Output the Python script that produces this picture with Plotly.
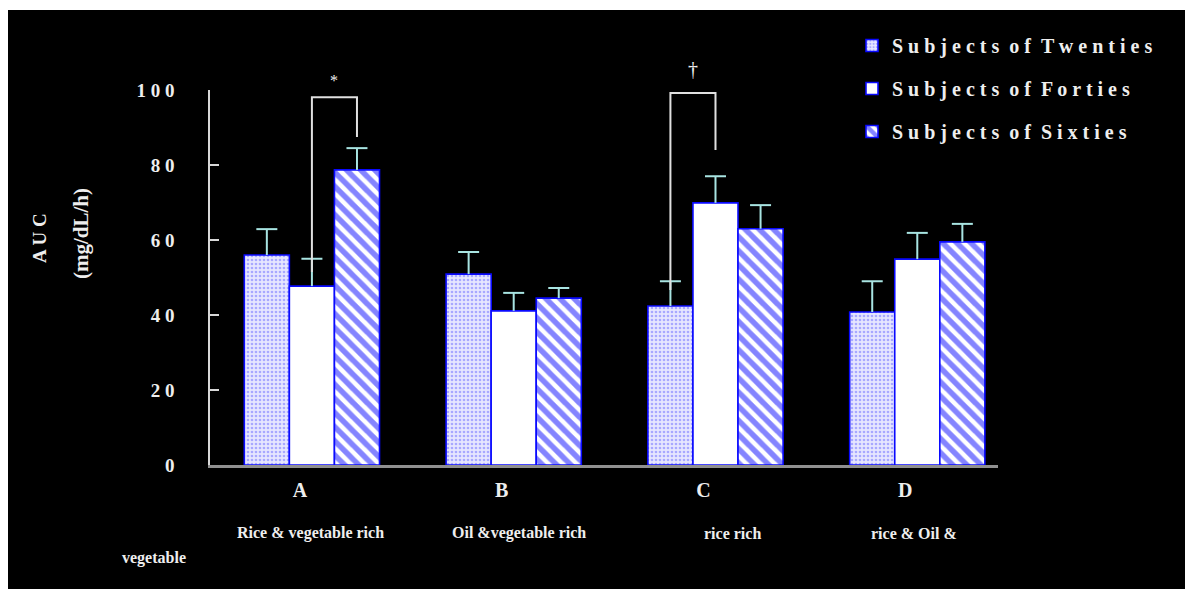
import plotly.graph_objects as go

# ---- data ----
categories = ["A", "B", "C", "D"]
category_desc = ["Rice & vegetable rich", "Oil &vegetable rich", "rice rich", "rice & Oil &"]
series_names = ["Subjects of Twenties", "Subjects of Forties", "Subjects of Sixties"]
twenties = [56.0, 50.9, 42.4, 40.8]
forties = [47.7, 41.1, 69.9, 54.9]
sixties = [78.7, 44.5, 63.0, 59.5]
twenties_err = [6.9, 5.9, 6.6, 8.2]
forties_err = [7.3, 4.8, 7.1, 7.0]
sixties_err = [5.8, 2.7, 6.3, 4.8]
y_ticks = [0, 20, 40, 60, 80, 100]
# significance brackets: (category index, left series, right series, left bottom, right bottom, top, symbol)
brackets = [(0, 1, 2, 51.5, 87.5, 98.1, "*"), (2, 0, 1, 46.7, 84.0, 99.2, "\u2020")]

FONT = "Liberation Serif"
TXT = "#eeeeee"
BLUE = "#0a0aff"
ERR = "#a8e4e2"
BARGAP = 0.33


def spaced(s):
    return " ".join(s).replace("   ", "\u00a0\u00a0")


values = [twenties, forties, sixties]
errors = [twenties_err, forties_err, sixties_err]
patterns = [
    dict(shape=".", fgcolor="#6a6aff", bgcolor="#e6e6ff", size=4, solidity=0.35),
    None,
    dict(shape="\\", fgcolor=BLUE, bgcolor="#ffffff", size=10, solidity=0.55),
]

fig = go.Figure()
w = (1 - BARGAP) / 3
for i in range(3):
    marker = dict(color="#ffffff", line=dict(color=BLUE, width=1.6))
    if patterns[i] is not None:
        marker["pattern"] = patterns[i]
    fig.add_trace(go.Bar(
        x=list(range(len(categories))), y=values[i], name=spaced(series_names[i]),
        legendgroup="g" + str(i), marker=marker,
        error_y=dict(type="data", array=errors[i], arrayminus=[0] * len(categories),
                     symmetric=False, color=ERR, thickness=2, width=0),
    ))
# error-bar caps (top only)
for i in range(3):
    fig.add_trace(go.Scatter(
        x=[c + (i - 1) * w for c in range(len(categories))],
        y=[v + e for v, e in zip(values[i], errors[i])],
        mode="markers", showlegend=False, hoverinfo="skip", legendgroup="g" + str(i),
        marker=dict(symbol="line-ew", size=15, line=dict(color=ERR, width=2)),
    ))

# brackets computed from bar positions
for ci, s1, s2, yb1, yb2, yt, sym in brackets:
    x1 = ci + (s1 - 1) * w
    x2 = ci + (s2 - 1) * w
    fig.add_shape(type="path", xref="x", yref="y",
                  path=f"M {x1} {yb1} L {x1} {yt} L {x2} {yt} L {x2} {yb2}",
                  line=dict(color="#e0e0e0", width=2))
    fig.add_annotation(x=(x1 + x2) / 2, y=yt, xref="x", yref="y", text=sym, showarrow=False,
                       yanchor="bottom", yshift=6 if sym == "*" else 11,
                       font=dict(family=FONT, size=16 if sym == "*" else 20, color=TXT))

# category descriptions
shifts = [-1, 5, 17, -3]
for i, d in enumerate(category_desc):
    fig.add_annotation(x=i, y=0, xref="x", yref="paper", text=d, showarrow=False,
                       xanchor="center", yanchor="middle", yshift=-68, xshift=shifts[i],
                       font=dict(family=FONT, size=16, color=TXT, weight="bold"))
fig.add_annotation(x=(154 - 210) / 788, y=0, xref="paper", yref="paper", text="vegetable",
                   showarrow=False, xanchor="center", yanchor="middle", yshift=-93,
                   font=dict(family=FONT, size=16, color=TXT, weight="bold"))

# y-axis title (two parts)
fig.add_annotation(x=(39 - 210) / 788, y=(465 - 238) / 375, xref="paper", yref="paper",
                   text=spaced("AUC"), textangle=-90, showarrow=False,
                   xanchor="center", yanchor="middle",
                   font=dict(family=FONT, size=19, color=TXT, weight="bold"))
fig.add_annotation(x=(81 - 210) / 788, y=(465 - 234) / 375, xref="paper", yref="paper",
                   text="(mg/dL/h)", textangle=-90, showarrow=False,
                   xanchor="center", yanchor="middle",
                   font=dict(family=FONT, size=21, color=TXT, weight="bold"))

# white top strip of the scanned border
fig.add_shape(type="rect", xref="paper", yref="paper", x0=-1, x1=2, y0=(465 - 10) / 375, y1=2,
              fillcolor="white", line=dict(width=0), layer="below")

fig.update_layout(
    width=1193, height=589,
    margin=dict(l=202, r=203, t=82, b=132),
    paper_bgcolor="black", plot_bgcolor="black",
    barmode="group", bargap=BARGAP, bargroupgap=0,
    font=dict(family=FONT, color=TXT),
    legend=dict(x=(852 - 210) / 788, y=(465 - 26) / 375, xanchor="left", yanchor="top",
                font=dict(family=FONT, size=20, color=TXT, weight="bold"),
                tracegroupgap=14, traceorder="grouped", bgcolor="rgba(0,0,0,0)"),
    showlegend=True,
)
fig.update_xaxes(
    tickmode="array", tickvals=list(range(len(categories))), ticktext=categories,
    range=[-0.505, 3.40], showgrid=False, zeroline=False,
    showline=True, linecolor="#909090", linewidth=2.5, ticks="",
    tickfont=dict(family=FONT, size=20, color=TXT, weight="bold"),
    ticklabelshift=-12, ticklabelstandoff=5,
)
fig.update_yaxes(
    range=[0, 100], tickmode="array", tickvals=y_ticks,
    ticktext=[spaced(str(v)) for v in y_ticks],
    showgrid=False, zeroline=False, showline=True, linecolor="#d8d8d8", linewidth=1.5,
    ticks="inside", ticklen=9, tickcolor="#d8d8d8", tickwidth=1.5,
    tickfont=dict(family=FONT, size=19, color=TXT, weight="bold"),
    ticklabelstandoff=30,
)

fig.write_html("out.html")
